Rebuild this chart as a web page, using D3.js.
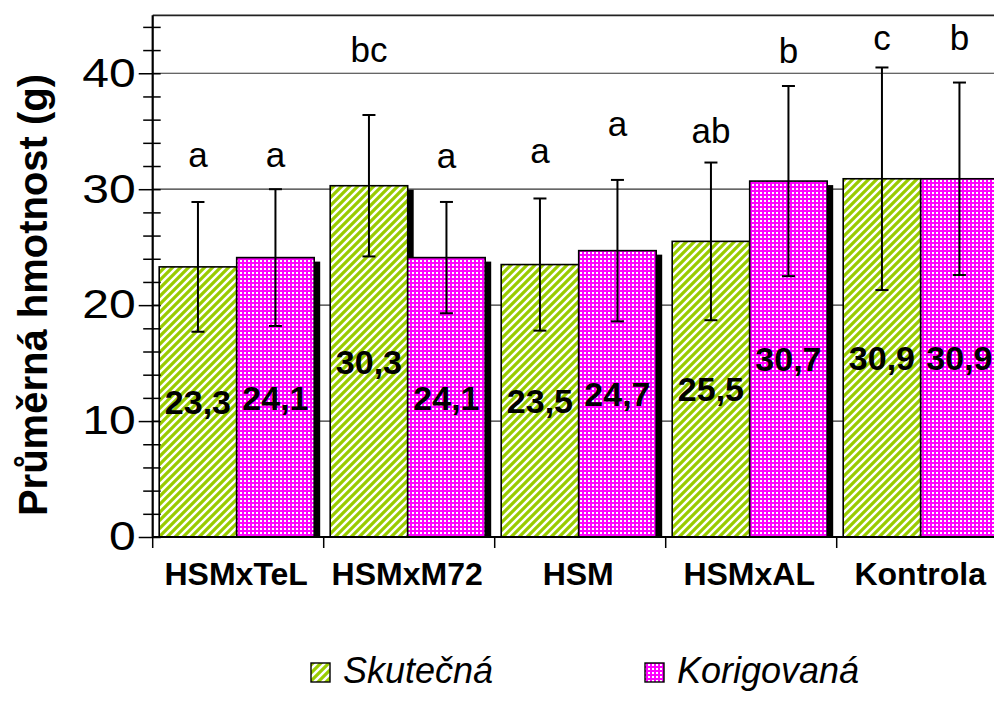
<!DOCTYPE html>
<html>
<head>
<meta charset="utf-8">
<script src="https://cdn.jsdelivr.net/npm/d3@7"></script>
<style>
  html, body { margin: 0; padding: 0; background: #fff; }
  svg { display: block; font-family: "Liberation Sans", Arial, sans-serif; }
</style>
</head>
<body>
<svg id="chart" width="994" height="711"></svg>
<script>
// Mean body weight per variant, actual vs. corrected values, with SD and significance letters
const categories = ["HSMxTeL", "HSMxM72", "HSM", "HSMxAL", "Kontrola"];
const seriesNames = ["Skutečná", "Korigovaná"];
const skutecna = [23.3, 30.3, 23.5, 25.5, 30.9];
const korigovana = [24.1, 24.1, 24.7, 30.7, 30.9];
const sdSkutecna = [5.6, 6.1, 5.7, 6.8, 9.6];
const sdKorigovana = [5.9, 4.8, 6.1, 8.2, 8.3];
const lettersSkutecna = ["a", "bc", "a", "ab", "c"];
const lettersKorigovana = ["a", "a", "a", "b", "b"];
// height (in grams) at which each significance letter sits
const letterLevelSkutecna = [31.9, 41.0, 32.3, 34.0, 42.0];
const letterLevelKorigovana = [31.9, 31.8, 34.6, 40.9, 42.0];
const majorTicks = [0, 10, 20, 30, 40];
const minorTicks = [2, 4, 6, 8, 12, 14, 16, 18, 22, 24, 26, 28, 32, 34, 36, 38, 42, 44];

const fmt = v => String(v).replace(".", ",");

const svg = d3.select("#chart");
const plotLeft = 152.7, plotRight = 1007.7, plotTop = 15.3, plotBottom = 537;

const x = d3.scaleBand().domain(categories).range([plotLeft, plotRight]).paddingInner(0).paddingOuter(0);
const sub = d3.scaleBand().domain(seriesNames).range([6.5, 161.5]);
const y = d3.scaleLinear().domain([0, 45]).range([plotBottom, plotTop]);

// fill patterns
const defs = svg.append("defs");
const pg = defs.append("pattern").attr("id", "pGreen").attr("patternUnits", "userSpaceOnUse")
  .attr("width", 8).attr("height", 8);
pg.append("rect").attr("width", 8).attr("height", 8).attr("fill", "#fff");
pg.append("path").attr("d", "M0,8 L8,0 M-2,2 L2,-2 M6,10 L10,6")
  .attr("stroke", "#99cc00").attr("stroke-width", 3.2);
const pm = defs.append("pattern").attr("id", "pPink").attr("patternUnits", "userSpaceOnUse")
  .attr("width", 4).attr("height", 4);
pm.append("rect").attr("width", 4).attr("height", 4).attr("fill", "#ff00ff");
pm.append("rect").attr("x", 0).attr("y", 0).attr("width", 2).attr("height", 2).attr("fill", "#fff");
defs.append("clipPath").attr("id", "plotClip").append("rect")
  .attr("x", plotLeft).attr("y", 0).attr("width", plotRight - plotLeft + 20).attr("height", plotBottom);

// gridlines
svg.append("g").selectAll("line").data(majorTicks.filter(d => d > 0)).join("line")
  .attr("x1", plotLeft).attr("x2", plotRight)
  .attr("y1", d => y(d)).attr("y2", d => y(d))
  .attr("stroke", "#333").attr("stroke-width", 1.2);
// top frame
svg.append("line").attr("x1", plotLeft).attr("x2", plotRight)
  .attr("y1", plotTop).attr("y2", plotTop).attr("stroke", "#222").attr("stroke-width", 1.8);

const series = [
  { name: seriesNames[0], values: skutecna, sd: sdSkutecna, letters: lettersSkutecna, levels: letterLevelSkutecna, fill: "url(#pGreen)" },
  { name: seriesNames[1], values: korigovana, sd: sdKorigovana, letters: lettersKorigovana, levels: letterLevelKorigovana, fill: "url(#pPink)" }
];

const barW = sub.bandwidth();
const bars = svg.append("g").attr("clip-path", "url(#plotClip)");
series.forEach(s => {
  const g = bars.append("g");
  // drop shadows
  g.selectAll("rect.sh").data(s.values).join("rect").attr("class", "sh")
    .attr("x", (d, i) => x(categories[i]) + sub(s.name) + 6)
    .attr("y", d => y(d) + 4)
    .attr("width", barW).attr("height", d => plotBottom - y(d))
    .attr("fill", "#000");
  g.selectAll("rect.bar").data(s.values).join("rect").attr("class", "bar")
    .attr("x", (d, i) => x(categories[i]) + sub(s.name))
    .attr("y", d => y(d))
    .attr("width", barW).attr("height", d => plotBottom - y(d))
    .attr("fill", s.fill).attr("stroke", "#000").attr("stroke-width", 1.6);
});

// error bars
series.forEach(s => {
  const g = svg.append("g").attr("stroke", "#000").attr("stroke-width", 2).attr("clip-path", "url(#plotClip)");
  s.values.forEach((v, i) => {
    const cx = x(categories[i]) + sub(s.name) + barW / 2;
    const y1 = y(v + s.sd[i]), y0 = y(v - s.sd[i]);
    g.append("line").attr("x1", cx).attr("x2", cx).attr("y1", y1).attr("y2", y0);
    g.append("line").attr("x1", cx - 6.5).attr("x2", cx + 6.5).attr("y1", y1).attr("y2", y1);
    g.append("line").attr("x1", cx - 6.5).attr("x2", cx + 6.5).attr("y1", y0).attr("y2", y0);
  });
});

// value labels in the middle of each bar
series.forEach(s => {
  svg.append("g").selectAll("text").data(s.values).join("text")
    .attr("x", (d, i) => x(categories[i]) + sub(s.name) + barW / 2)
    .attr("y", d => (y(d) + plotBottom) / 2)
    .attr("dy", "0.36em")
    .attr("text-anchor", "middle")
    .attr("font-weight", "bold").attr("font-size", 34)
    .text(d => fmt(d));
});

// significance letters
series.forEach(s => {
  svg.append("g").selectAll("text").data(s.letters).join("text")
    .attr("x", (d, i) => x(categories[i]) + sub(s.name) + barW / 2)
    .attr("y", (d, i) => y(s.levels[i]))
    .attr("text-anchor", "middle")
    .attr("font-size", 35)
    .text(d => d);
});

// y axis
const yAxisG = svg.append("g").attr("transform", `translate(${plotLeft},0)`);
yAxisG.append("line").attr("x1", 0).attr("x2", 0).attr("y1", plotTop).attr("y2", plotBottom)
  .attr("stroke", "#000").attr("stroke-width", 2.2);
const minorG = yAxisG.append("g").call(d3.axisLeft(y).tickValues(minorTicks).tickSize(0).tickFormat(""));
minorG.select(".domain").remove();
minorG.selectAll(".tick line").attr("x1", -9.5).attr("x2", 8).attr("stroke", "#000").attr("stroke-width", 1.5);
const majorG = yAxisG.append("g").call(d3.axisLeft(y).tickValues(majorTicks).tickSize(0).tickFormat(d3.format("d")));
majorG.select(".domain").remove();
majorG.selectAll(".tick line").attr("x1", -14).attr("x2", 8).attr("stroke", "#000").attr("stroke-width", 1.5);
// tick labels are drawn a little wider than the regular face
majorG.selectAll(".tick text").attr("font-size", 40).attr("fill", "#000")
  .attr("font-family", "'Liberation Sans', Arial, sans-serif")
  .attr("x", 0).attr("transform", "translate(-17,0) scale(1.2,1)");

// x axis
const xAxisG = svg.append("g").attr("transform", `translate(0,${plotBottom})`);
xAxisG.append("line").attr("x1", plotLeft).attr("x2", plotRight).attr("y1", 0).attr("y2", 0)
  .attr("stroke", "#000").attr("stroke-width", 2.2);
xAxisG.selectAll("line.cat").data(categories.concat(["end"])).join("line").attr("class", "cat")
  .attr("x1", (d, i) => plotLeft + i * x.bandwidth()).attr("x2", (d, i) => plotLeft + i * x.bandwidth())
  .attr("y1", 0).attr("y2", 11).attr("stroke", "#000").attr("stroke-width", 1.5);
xAxisG.selectAll("text").data(categories).join("text")
  .attr("x", d => x(d) + x.bandwidth() / 2 - 2)
  .attr("y", 48)
  .attr("text-anchor", "middle").attr("font-weight", "bold").attr("font-size", 32)
  .text(d => d);

// y title
svg.append("text")
  .attr("transform", "translate(47,295) rotate(-90)")
  .attr("text-anchor", "middle").attr("font-weight", "bold").attr("font-size", 40)
  .text("Průměrná hmotnost (g)");

// legend
const legend = svg.append("g");
const legendX = [311, 645];
series.forEach((s, i) => {
  legend.append("rect").attr("x", legendX[i]).attr("y", 663).attr("width", 19).attr("height", 19)
    .attr("fill", s.fill).attr("stroke", "#000").attr("stroke-width", 1.4);
  legend.append("text").attr("x", legendX[i] + 32).attr("y", 683)
    .attr("font-style", "italic").attr("font-size", 36)
    .text(s.name);
});
</script>
</body>
</html>
